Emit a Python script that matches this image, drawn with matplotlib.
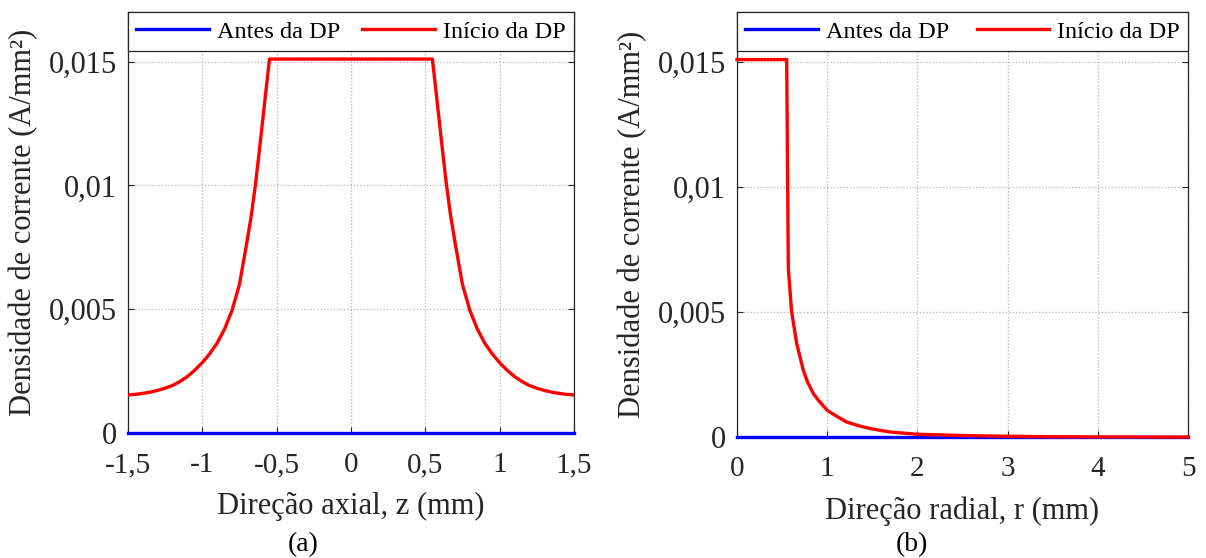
import numpy as np
import matplotlib
matplotlib.use('Agg')
import matplotlib.pyplot as plt

plt.rcParams['font.family'] = ['Liberation Serif', 'DejaVu Serif']

# === Data ===
# (a) axial direction
z_axial = [-1.5, -1.45, -1.4, -1.35, -1.3, -1.25, -1.2, -1.15, -1.1, -1.05, -1.0,
           -0.95, -0.9, -0.85, -0.8, -0.75, -0.7, -0.67, -0.643, -0.62, -0.548,
           0.548, 0.62, 0.643, 0.67, 0.7, 0.75, 0.8, 0.85, 0.9, 0.95,
           1.0, 1.05, 1.1, 1.15, 1.2, 1.25, 1.3, 1.35, 1.4, 1.45, 1.5]
j_axial = [0.00154, 0.00156, 0.00160, 0.00165, 0.00172, 0.00181, 0.00192, 0.00208,
           0.00228, 0.00254, 0.00284, 0.00320, 0.00363, 0.00420, 0.00495, 0.00600,
           0.00770, 0.00880, 0.0100, 0.0112, 0.0151,
           0.0151, 0.0112, 0.0100, 0.00880, 0.00770, 0.00600, 0.00495, 0.00420,
           0.00363, 0.00320, 0.00284, 0.00254, 0.00228, 0.00208, 0.00192,
           0.00181, 0.00172, 0.00165, 0.00160, 0.00156, 0.00154]
z_before = [-1.5, 1.5]
j_before_axial = [0.0, 0.0]

# (b) radial direction
r_radial = [0.0, 0.551, 0.569, 0.606, 0.662, 0.735, 0.78, 0.846, 0.9, 1.0, 1.1,
            1.216, 1.35, 1.475, 1.6, 1.7, 2.0, 2.5, 3.0, 3.5, 4.0, 5.0]
j_radial = [0.0151, 0.0151, 0.00674, 0.0050, 0.00374, 0.00267, 0.00222, 0.00174,
            0.00148, 0.00107, 0.00084, 0.0006, 0.00045, 0.00034, 0.00026, 0.0002,
            0.00011, 0.00006, 0.00003, 0.00001, 0.000005, 0.0]
r_before = [0.0, 5.0]
j_before_radial = [0.0, 0.0]

yticks = [0, 0.005, 0.01, 0.015]
ytick_labels = ['0', '0,005', '0,01', '0,015']
xticks_a = [-1.5, -1, -0.5, 0, 0.5, 1, 1.5]
xtick_labels_a = ['-1,5', '-1', '-0,5', '0', '0,5', '1', '1,5']
xticks_b = [0, 1, 2, 3, 4, 5]
xtick_labels_b = ['0', '1', '2', '3', '4', '5']

labels = ['Antes da DP', 'Início da DP']
spine_col = '#262626'

fig = plt.figure(figsize=(12.06, 5.58), dpi=100)
ax_a = fig.add_axes([0.1061, 0.224, 0.3698, 0.7545])
ax_b = fig.add_axes([0.6111, 0.2168, 0.3740, 0.7616])


def style(ax, xticks, xlabels, xlim, xlabel, ylab_x):
    ax.set_xlim(xlim)
    ax.set_ylim(0, 0.017)
    ax.set_xticks(xticks)
    ax.set_xticklabels(xlabels)
    ax.set_yticks(yticks)
    ax.set_yticklabels(ytick_labels)
    ax.tick_params(axis='both', direction='in', length=4, width=0.8,
                   colors=spine_col, top=True, right=True)
    ax.tick_params(axis='x', labelsize=21, pad=14, labelcolor='#262626')
    ax.tick_params(axis='y', labelsize=22, pad=8, labelcolor='#262626')
    ax.grid(True, linestyle=':', color='#b5b5b5', linewidth=0.9)
    for s in ax.spines.values():
        s.set_color(spine_col)
        s.set_linewidth(0.9)
    ax.set_xlabel(xlabel, fontsize=22, color='#262626', labelpad=10)
    ax.set_ylabel('Densidade de corrente (A/mm²)', fontsize=22, color='#262626')
    ax.yaxis.set_label_coords(ylab_x, 0.5)
    leg = ax.legend(labels, loc='upper left', bbox_to_anchor=(0, 0, 1, 1),
                    mode='expand', ncol=2, borderaxespad=0, fontsize=17.5,
                    fancybox=False, framealpha=1, edgecolor=spine_col,
                    handlelength=3.0, handletextpad=0.3, columnspacing=1.0,
                    borderpad=0.35)
    leg.get_frame().set_linewidth(0.9)


ax_a.plot(z_before, j_before_axial, color='#0000ff', lw=2.4, clip_on=False, zorder=3)
ax_a.plot(z_axial, j_axial, color='#ff0000', lw=2.4, zorder=3)
style(ax_a, xticks_a, xtick_labels_a, (-1.5, 1.5), 'Direção axial, z (mm)', -0.202)

ax_b.plot(r_before, j_before_radial, color='#0000ff', lw=2.4, clip_on=False, zorder=3)
ax_b.plot(r_radial, j_radial, color='#ff0000', lw=2.4, clip_on=False, zorder=3)
style(ax_b, xticks_b, xtick_labels_b, (0, 5), 'Direção radial, r (mm)', -0.2)

fig.text(303 / 1206, 1 - 545 / 558, '(a)', fontsize=20, ha='center', va='center')
fig.text(912 / 1206, 1 - 545 / 558, '(b)', fontsize=20, ha='center', va='center')

fig.savefig('out.png', dpi=100)
